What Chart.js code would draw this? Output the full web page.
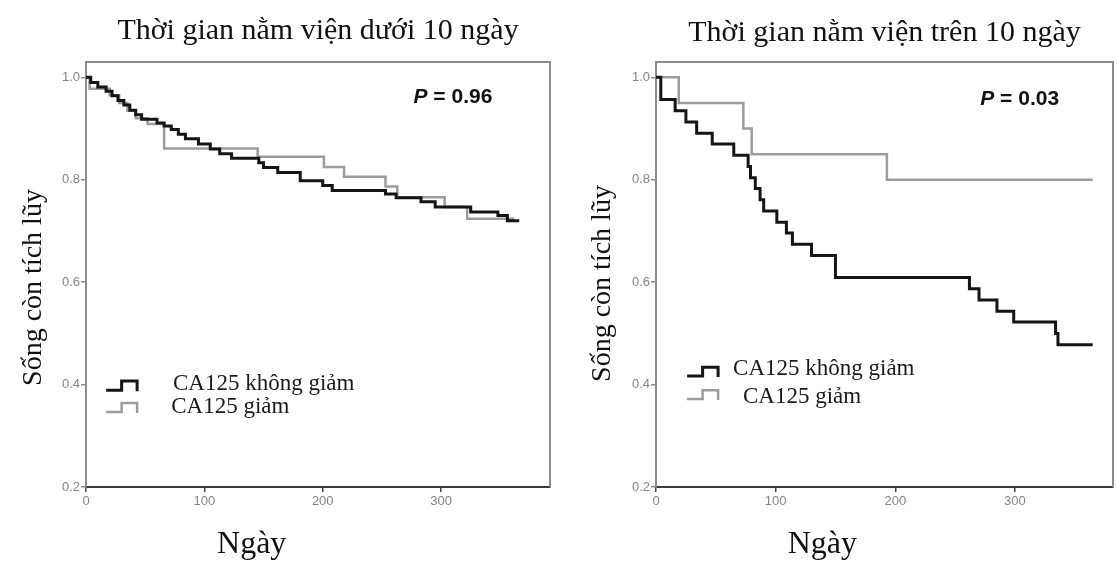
<!DOCTYPE html>
<html>
<head>
<meta charset="utf-8">
<script src="https://cdn.jsdelivr.net/npm/chart.js@4/dist/chart.umd.min.js"></script>
<style>
  html, body { margin: 0; padding: 0; background: #fff; }
  #wrap { position: relative; width: 1118px; height: 562px; overflow: hidden; }
  canvas { position: absolute; top: 0; }
  #c1 { left: 0; }
  #c2 { left: 559px; }
</style>
</head>
<body>
<div id="wrap">
  <canvas id="c1" width="559" height="562"></canvas>
  <canvas id="c2" width="559" height="562"></canvas>
</div>
<script>
// ─────────────────────────────────────────────────────────────────────────────
// Kaplan-Meier: sống còn tích lũy theo nhóm CA125, 2 nhóm thời gian nằm viện
// ─────────────────────────────────────────────────────────────────────────────

const groups = ['CA125 không giảm', 'CA125 giảm']
const xTicks = [0, 100, 200, 300]
const yTicks = [0.2, 0.4, 0.6, 0.8, 1.0]
const titles = ['Thời gian nằm viện dưới 10 ngày', 'Thời gian nằm viện trên 10 ngày']
const pValues = ['0.96', '0.03']

// ── DỮ LIỆU: dưới 10 ngày ────────────────────────────────────────────────────
const duoiKhongGiamNgay = [0, 4, 10, 17, 22, 27, 32, 37, 42, 47, 60, 66, 72, 78, 84, 95, 105, 113, 123, 146, 150, 162, 181, 200, 208, 253, 262, 283, 295, 325, 348, 356, 366]
const duoiKhongGiamSong = [1.0, 0.99, 0.981, 0.973, 0.964, 0.955, 0.946, 0.936, 0.927, 0.918, 0.911, 0.905, 0.898, 0.889, 0.88, 0.87, 0.86, 0.851, 0.842, 0.833, 0.824, 0.814, 0.798, 0.789, 0.779, 0.772, 0.765, 0.757, 0.747, 0.737, 0.73, 0.72, 0.72]
const duoiGiamNgay = [0, 3, 20, 28, 35, 42, 52, 66, 145, 201, 218, 253, 263, 303, 322, 362]
const duoiGiamSong = [1.0, 0.978, 0.965, 0.95, 0.935, 0.92, 0.909, 0.861, 0.845, 0.825, 0.806, 0.787, 0.766, 0.747, 0.724, 0.724]

// ── DỮ LIỆU: trên 10 ngày ────────────────────────────────────────────────────
const trenKhongGiamNgay = [0, 4, 16, 25, 34, 47, 65, 77, 79, 83, 87, 90, 101, 109, 114, 130, 150, 262, 270, 285, 299, 334, 336, 365]
const trenKhongGiamSong = [1.0, 0.957, 0.935, 0.913, 0.891, 0.87, 0.848, 0.826, 0.804, 0.783, 0.761, 0.739, 0.717, 0.696, 0.674, 0.652, 0.609, 0.587, 0.565, 0.543, 0.522, 0.5, 0.478, 0.478]
const trenGiamNgay = [0, 19, 73, 80, 193, 365]
const trenGiamSong = [1.0, 0.95, 0.9, 0.85, 0.8, 0.8]

// ── HELPERS ──────────────────────────────────────────────────────────────────

const SERIF = '"Liberation Serif", "Times New Roman", serif'
const SANS = '"Liberation Sans", Arial, sans-serif'

function toPoints(days, surv) {
  return days.map((d, i) => ({ x: d, y: surv[i] }))
}

function kmDataset(label, days, surv, color, width) {
  return {
    label,
    data: toPoints(days, surv),
    stepped: 'before',
    borderColor: color,
    borderWidth: width,
    pointRadius: 0,
    fill: false
  }
}

// glyph dạng bậc thang như chú giải SPSS
function stepGlyph(ctx, x0, yTop, yBot, color, width) {
  const w = 31
  ctx.strokeStyle = color
  ctx.lineWidth = width
  ctx.beginPath()
  ctx.moveTo(x0, yBot)
  ctx.lineTo(x0 + w * 0.5, yBot)
  ctx.lineTo(x0 + w * 0.5, yTop)
  ctx.lineTo(x0 + w, yTop)
  ctx.lineTo(x0 + w, yBot + 1)
  ctx.stroke()
}

// khung trên + phải của ô đồ thị
const framePlugin = {
  id: 'frame',
  afterDraw(chart) {
    const { ctx, chartArea: a } = chart
    ctx.save()
    ctx.strokeStyle = '#8c8c8c'
    ctx.lineWidth = 2
    ctx.beginPath()
    ctx.moveTo(a.left, a.top)
    ctx.lineTo(a.right, a.top)
    ctx.lineTo(a.right, a.bottom)
    ctx.stroke()
    ctx.restore()
  }
}

// tiêu đề, nhãn trục, giá trị P, chú giải
const annotPlugin = {
  id: 'annot',
  afterDraw(chart, args, o) {
    const { ctx, chartArea: a, scales: { x, y } } = chart
    ctx.save()
    ctx.fillStyle = '#111'
    ctx.textBaseline = 'alphabetic'

    ctx.font = '30px ' + SERIF
    ctx.textAlign = 'center'
    ctx.fillText(o.title, (a.left + a.right) / 2, o.titleY)

    ctx.font = '32px ' + SERIF
    ctx.fillText('Ngày', x.getPixelForValue(o.xTitleDay), 553)

    ctx.save()
    ctx.font = '28px ' + SERIF
    ctx.translate(o.yTitleX, (a.top + a.bottom) / 2 + o.yTitleDy)
    ctx.rotate(-Math.PI / 2)
    ctx.fillText('Sống còn tích lũy', 0, 0)
    ctx.restore()

    // P = ...
    const pItalic = 'italic bold 21px ' + SANS
    const pBold = 'bold 21px ' + SANS
    const rest = ' = ' + o.p
    ctx.font = pItalic
    const wP = ctx.measureText('P').width
    ctx.font = pBold
    const wR = ctx.measureText(rest).width
    const cx = x.getPixelForValue(o.pAt[0])
    const by = y.getPixelForValue(o.pAt[1])
    const x0 = cx - (wP + wR) / 2
    ctx.textAlign = 'left'
    ctx.font = pItalic
    ctx.fillText('P', x0, by)
    ctx.font = pBold
    ctx.fillText(rest, x0 + wP, by)

    // chú giải
    ctx.font = '23px ' + SERIF
    o.legend.forEach((it, i) => {
      const ds = chart.data.datasets[i]
      const gx = x.getPixelForValue(it.glyphDay)
      stepGlyph(ctx, gx, y.getPixelForValue(it.glyph[0]), y.getPixelForValue(it.glyph[1]), ds.borderColor, ds.borderWidth)
      ctx.fillStyle = '#1a1a1a'
      ctx.fillText(ds.label, x.getPixelForValue(it.textDay), y.getPixelForValue(it.base))
    })
    ctx.restore()
  }
}

// ── BIỂU ĐỒ ──────────────────────────────────────────────────────────────────

function makePanel(id, cfg) {
  return new Chart(document.getElementById(id), {
    type: 'line',
    data: {
      datasets: [
        kmDataset(groups[0], cfg.blackDays, cfg.blackSurv, '#151515', 3),
        kmDataset(groups[1], cfg.greyDays, cfg.greySurv, '#9c9c9c', 2.5)
      ]
    },
    options: {
      responsive: false,
      animation: false,
      layout: { padding: { top: 62, right: cfg.padRight, bottom: 0, left: 0 } },
      plugins: {
        legend: { display: false },
        tooltip: { enabled: false },
        annot: cfg.annot
      },
      scales: {
        x: {
          type: 'linear',
          min: 0,
          max: cfg.xMax,
          afterBuildTicks: s => { s.ticks = xTicks.map(v => ({ value: v })) },
          afterFit: s => { s.height = 75 },
          grid: { drawOnChartArea: false, drawTicks: true, tickLength: 5, color: '#444', lineWidth: 1.5 },
          border: { display: true, color: '#3a3a3a', width: 2 },
          ticks: { color: '#858585', font: { family: SANS, size: 13 }, padding: 2, maxRotation: 0 }
        },
        y: {
          type: 'linear',
          min: 0.2,
          max: 1.03,
          afterBuildTicks: s => { s.ticks = yTicks.map(v => ({ value: v })) },
          afterFit: s => { s.width = cfg.yWidth },
          grid: { drawOnChartArea: false, drawTicks: true, tickLength: 5, color: '#8c8c8c', lineWidth: 1.5 },
          border: { display: true, color: '#8c8c8c', width: 2 },
          ticks: { color: '#858585', font: { family: SANS, size: 13 }, padding: 1, callback: v => v.toFixed(1) }
        }
      }
    },
    plugins: [framePlugin, annotPlugin]
  })
}

makePanel('c1', {
  blackDays: duoiKhongGiamNgay, blackSurv: duoiKhongGiamSong,
  greyDays: duoiGiamNgay, greySurv: duoiGiamSong,
  xMax: 392, yWidth: 86, padRight: 9,
  annot: {
    title: titles[0], titleY: 39, yTitleX: 41, yTitleDy: 13, xTitleDay: 140,
    p: pValues[0], pAt: [310, 0.95],
    legend: [
      { glyphDay: 17, glyph: [0.407, 0.389], textDay: 73.5, base: 0.389 },
      { glyphDay: 17, glyph: [0.364, 0.3465], textDay: 72, base: 0.3445 }
    ]
  }
})

makePanel('c2', {
  blackDays: trenKhongGiamNgay, blackSurv: trenKhongGiamSong,
  greyDays: trenGiamNgay, greySurv: trenGiamSong,
  xMax: 382, yWidth: 97, padRight: 5,
  annot: {
    title: titles[1], titleY: 41, yTitleX: 51, yTitleDy: 9, xTitleDay: 139,
    p: pValues[1], pAt: [304, 0.946],
    legend: [
      { glyphDay: 26, glyph: [0.434, 0.417], textDay: 64.4, base: 0.419 },
      { glyphDay: 26, glyph: [0.389, 0.372], textDay: 72.7, base: 0.364 }
    ]
  }
})
</script>
</body>
</html>
